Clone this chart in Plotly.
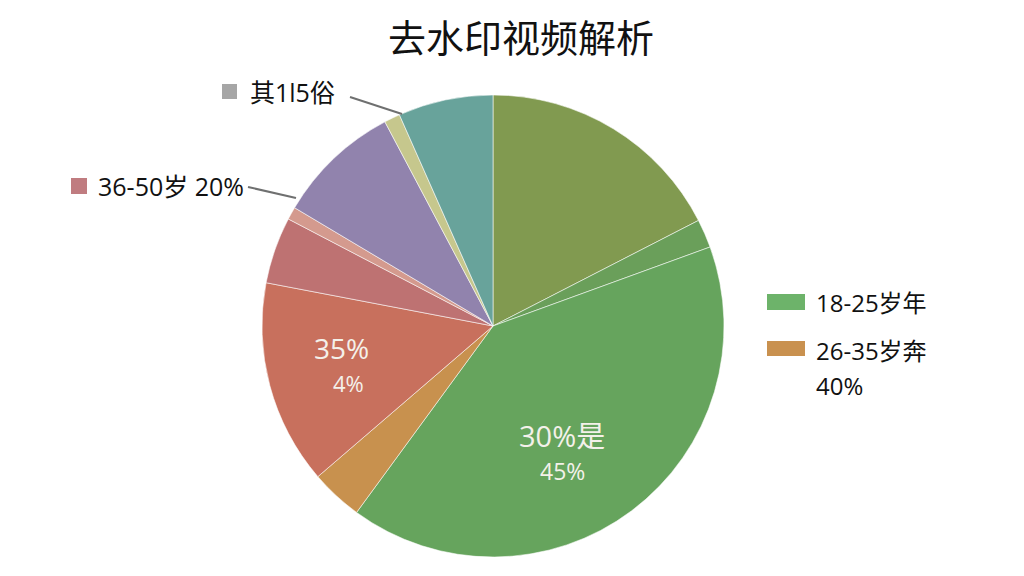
import plotly.graph_objects as go

W, H = 1024, 576
OFF = 8  # page body margin compensation

# slice sizes (degrees of the pie, read clockwise from 12 o'clock)
slice_names = ["olive", "light green", "18-25岁", "26-35岁", "35%", "36-50岁", "pink", "purple", "khaki", "其他"]
slice_values = [62.8, 7.2, 146.2, 13.1, 51.5, 16.8, 3.2, 31.3, 4.0, 23.9]
slice_colors = ["#819a50", "#6a9f5a", "#66a45d", "#c8914e", "#c8705d",
                "#be7272", "#d49a8e", "#9183ad", "#c6c78d", "#68a39b"]

title_text = "去水印视频解析"
inner_labels = [("35%", 341, 348, 28), ("4%", 348, 383, 22),
                ("30%是", 562, 435, 29), ("45%", 562, 471, 23)]
callouts = [("其1l5俗", "#a6a6a6", 222, 84, 237, 99, 248, 92, (350, 97, 402, 114)),
            ("36-50岁 20%", "#c07c80", 71, 178, 87, 194, 96, 186, (248, 187, 296, 198))]
legend_items = [("18-25岁年", "#6db36a", 767, 294, 805, 310, 814, 302),
                ("26-35岁奔", "#c9914f", 767, 341, 805, 356, 814, 350)]
legend_extra = ("40%", 814, 385)

FONT = "Open Sans, Noto Sans CJK SC, sans-serif"

def px(x):
    return (x - OFF) / W

def py(y):
    return 1 - (y - OFF) / H

cx, cy, r = 493, 326, 231

fig = go.Figure(go.Pie(
    labels=slice_names,
    values=slice_values,
    sort=False,
    direction="clockwise",
    rotation=0,
    marker=dict(colors=slice_colors, line=dict(color="rgba(255,255,255,0.55)", width=1)),
    textinfo="none",
    hoverinfo="label+percent",
    showlegend=False,
    domain=dict(x=[px(cx - r), px(cx + r)], y=[py(cy + r), py(cy - r)]),
))

annotations = [dict(text=title_text, x=px(521), y=py(37), xref="paper", yref="paper",
                    showarrow=False, xanchor="center", yanchor="middle",
                    font=dict(family=FONT, size=38, color="#111111"))]
for t, x, y, s in inner_labels:
    annotations.append(dict(text=t, x=px(x), y=py(y), xref="paper", yref="paper",
                            showarrow=False, xanchor="center", yanchor="middle",
                            font=dict(family=FONT, size=s, color="#f4f1ea")))

shapes = []
for t, col, x0, y0, x1, y1, tx, ty, ln in callouts:
    shapes.append(dict(type="rect", xref="paper", yref="paper", x0=px(x0), x1=px(x1),
                       y0=py(y1), y1=py(y0), fillcolor=col, line=dict(width=0)))
    shapes.append(dict(type="line", xref="paper", yref="paper", x0=px(ln[0]), y0=py(ln[1]),
                       x1=px(ln[2]), y1=py(ln[3]), line=dict(color="#6f7070", width=2)))
    annotations.append(dict(text=t, x=px(tx), y=py(ty), xref="paper", yref="paper",
                            showarrow=False, xanchor="left", yanchor="middle",
                            font=dict(family=FONT, size=25, color="#111111")))
for t, col, x0, y0, x1, y1, tx, ty in legend_items:
    shapes.append(dict(type="rect", xref="paper", yref="paper", x0=px(x0), x1=px(x1),
                       y0=py(y1), y1=py(y0), fillcolor=col, line=dict(width=0)))
    annotations.append(dict(text=t, x=px(tx), y=py(ty), xref="paper", yref="paper",
                            showarrow=False, xanchor="left", yanchor="middle",
                            font=dict(family=FONT, size=24, color="#111111")))
annotations.append(dict(text=legend_extra[0], x=px(legend_extra[1]), y=py(legend_extra[2]),
                        xref="paper", yref="paper", showarrow=False, xanchor="left",
                        yanchor="middle", font=dict(family=FONT, size=24, color="#111111")))

fig.update_layout(width=W, height=H, margin=dict(l=0, r=0, t=0, b=0),
                  paper_bgcolor="white", plot_bgcolor="white",
                  annotations=annotations, shapes=shapes)

fig.write_html("out.html")
